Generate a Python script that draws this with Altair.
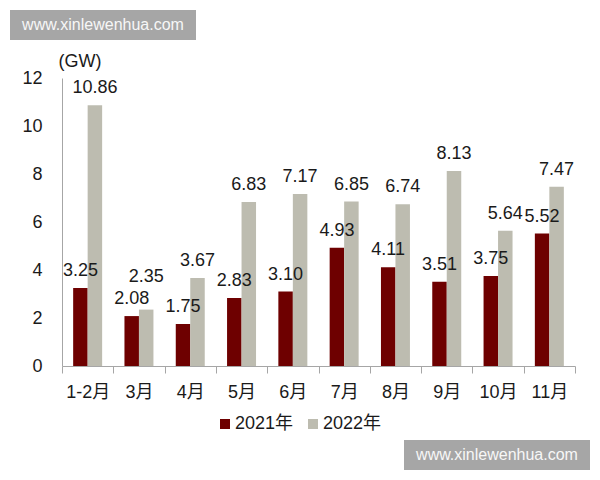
import altair as alt
import pandas as pd

months = ["1-2月", "3月", "4月", "5月", "6月", "7月", "8月", "9月", "10月", "11月"]
v2021 = [3.25, 2.08, 1.75, 2.83, 3.10, 4.93, 4.11, 3.51, 3.75, 5.52]
v2022 = [10.86, 2.35, 3.67, 6.83, 7.17, 6.85, 6.74, 8.13, 5.64, 7.47]
years = ["2021年", "2022年"]
colors = ["#6E0000", "#BDBCB0"]
watermark = "www.xinlewenhua.com"

rows = []
for m, a, b in zip(months, v2021, v2022):
    rows.append({"month": m, "year": years[0], "value": a})
    rows.append({"month": m, "year": years[1], "value": b})
df = pd.DataFrame(rows)

FONT = "Liberation Sans, Arial, Noto Sans CJK SC, sans-serif"

x = alt.X(
    "month:N", sort=months,
    scale=alt.Scale(paddingInner=0, paddingOuter=0),
    axis=alt.Axis(title=None, tickBand="extent", labelAngle=0, domainColor="#A6A6A6",
                  tickColor="#A6A6A6", tickSize=7, labelFontSize=18, labelPadding=10,
                  labelColor="#1a1a1a", labelFont=FONT),
)
xo = alt.XOffset("year:N", sort=years, scale=alt.Scale(paddingOuter=0.77, paddingInner=0))
y = alt.Y(
    "value:Q",
    scale=alt.Scale(domain=[0, 12], nice=False),
    axis=alt.Axis(values=[0, 2, 4, 6, 8, 10, 12], grid=False, ticks=False,
                  domainColor="#A6A6A6", labelPadding=20, labelFontSize=18,
                  labelColor="#1a1a1a", labelFont=FONT,
                  title="(GW)", titleAngle=0, titleX=-4, titleY=-12, titleAlign="left",
                  titleBaseline="alphabetic", titleFontSize=18, titleFontWeight="normal",
                  titleFont=FONT, titleColor="#1a1a1a"),
)

bars = alt.Chart(df).mark_bar().encode(
    x=x, xOffset=xo, y=y,
    color=alt.Color("year:N", sort=years,
                    scale=alt.Scale(domain=years, range=colors),
                    legend=alt.Legend(title=None, orient="none", legendX=154, legendY=337,
                                      direction="horizontal", symbolType="square",
                                      symbolSize=100, symbolStrokeWidth=0,
                                      labelFontSize=18, labelFont=FONT, labelColor="#1a1a1a",
                                      labelOffset=1, columnPadding=10)),
)

special = "datum.month == '3月' && datum.year == '2022年'"
labels = alt.Chart(df).transform_filter("!(" + special + ")").mark_text(
    fontSize=18, font=FONT, baseline="alphabetic", dy=-12, color="#1a1a1a"
).encode(x=x, xOffset=xo, y=y, text=alt.Text("value:Q", format=".2f"))

labels2 = alt.Chart(df).transform_filter(special).mark_text(
    fontSize=18, font=FONT, baseline="alphabetic", dy=-28, color="#1a1a1a"
).encode(x=x, xOffset=xo, y=y, text=alt.Text("value:Q", format=".2f"))

one = alt.Data(values=[{"k": 1}])
wm_rect1 = alt.Chart(one).mark_rect(color="#A6A6A6").encode(
    x=alt.value(-52), x2=alt.value(134), y=alt.value(-68), y2=alt.value(-38))
wm_text1 = alt.Chart(one).mark_text(fontSize=16, font=FONT, color="#F7F7F7",
                                    align="center", baseline="middle").encode(
    x=alt.value(41), y=alt.value(-53), text=alt.value(watermark))
wm_rect2 = alt.Chart(one).mark_rect(color="#A6A6A6").encode(
    x=alt.value(342), x2=alt.value(528), y=alt.value(362), y2=alt.value(392))
wm_text2 = alt.Chart(one).mark_text(fontSize=16, font=FONT, color="#F7F7F7",
                                    align="center", baseline="middle").encode(
    x=alt.value(435), y=alt.value(377), text=alt.value(watermark))

chart = alt.layer(bars, labels, labels2, wm_rect1, wm_text1, wm_rect2, wm_text2).properties(
    width=513, height=288,
    autosize=alt.AutoSizeParams(type="none"),
    padding={"left": 62, "top": 78, "right": 25, "bottom": 114},
    background="white",
).configure_view(stroke=None)

chart.save("out.html", embed_options={"renderer": "svg", "actions": False})
